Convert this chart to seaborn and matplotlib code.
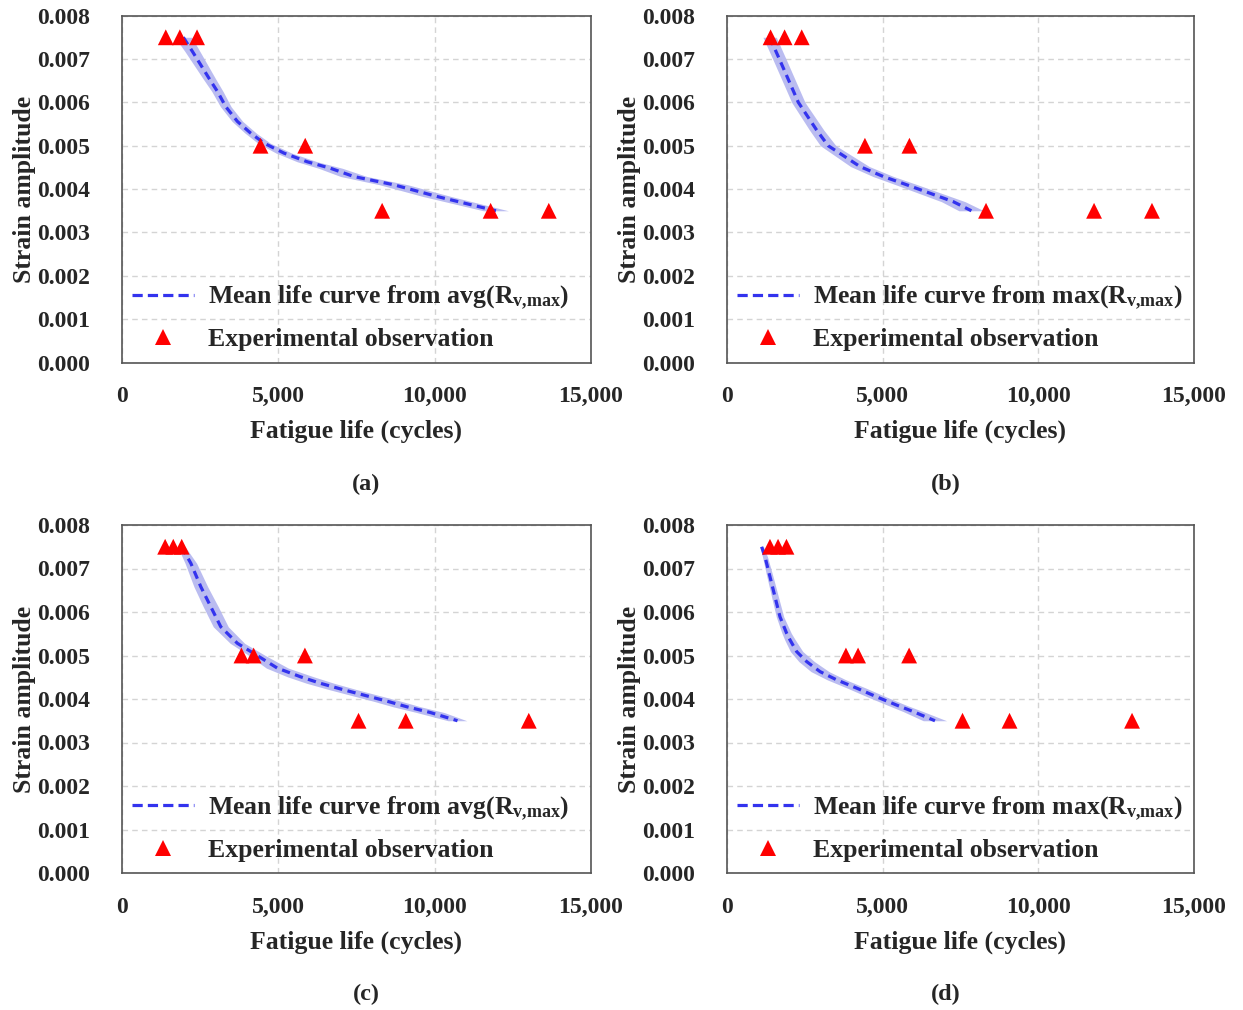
import numpy as np
import pandas as pd
import matplotlib
matplotlib.use("Agg")
import matplotlib.pyplot as plt
import seaborn as sns
from matplotlib.lines import Line2D

# ---------------- data ----------------
# mean life curves (strain amplitude, fatigue life)
a_strain = [0.0075, 0.00717, 0.00686, 0.00655, 0.00625, 0.0059, 0.00556, 0.00529,
            0.00506, 0.00483, 0.00463, 0.00448, 0.00429, 0.0041, 0.00383, 0.0035]
a_life = [1960, 2255, 2521, 2787, 3053, 3319, 3691, 4116,
          4541, 5179, 5924, 6669, 7414, 8690, 10074, 11960]
a_half = [270, 240, 220, 200, 180, 170, 170, 180,
          200, 250, 320, 380, 420, 450, 450, 400]

b_strain = [0.0075, 0.007, 0.00644, 0.006, 0.00536, 0.005, 0.00452, 0.00429,
            0.0041, 0.00371, 0.0035]
b_life = [1370, 1681, 2023, 2291, 2880, 3250, 4271, 5020, 5770, 7268, 7850]
b_half = [215, 214, 214, 214, 230, 250, 300, 330, 350, 380, 400]

c_strain = [0.0075, 0.00712, 0.00658, 0.00612, 0.00566, 0.00528, 0.00501, 0.00471,
            0.00451, 0.00436, 0.00421, 0.00409, 0.00395, 0.00382, 0.00369, 0.0035]
c_life = [1900, 2202, 2521, 2840, 3159, 3691, 4300, 4968,
          5712, 6350, 7095, 7733, 8477, 9115, 9860, 10730]
c_half = [120, 185, 220, 240, 240, 230, 260, 350,
          420, 440, 440, 440, 440, 440, 440, 300]

d_strain = [0.0075, 0.00727, 0.00681, 0.00635, 0.00589, 0.00551, 0.00536, 0.00509,
            0.00486, 0.00463, 0.00444, 0.00425, 0.00405, 0.00386, 0.00371, 0.0035]
d_life = [1113, 1220, 1381, 1541, 1702, 1916, 2023, 2237,
          2559, 2987, 3522, 4165, 4807, 5449, 5983, 6680]
d_half = [60, 80, 100, 110, 120, 150, 170, 200,
          250, 290, 300, 300, 300, 300, 320, 375]

obs_ab_life = [1400, 1850, 2400, 4430, 5860, 8320, 11790, 13650]
obs_ab_strain = [0.0075, 0.0075, 0.0075, 0.005, 0.005, 0.0035, 0.0035, 0.0035]
obs_cd_life = [1380, 1640, 1910, 3820, 4210, 5850, 7565, 9075, 13010]
obs_cd_strain = [0.0075, 0.0075, 0.0075, 0.005, 0.005, 0.005, 0.0035, 0.0035, 0.0035]

panel_tags = ["(a)", "(b)", "(c)", "(d)"]
legend_curve = [r"Mean life curve from avg(R$_{\rm v{,}max}$)",
                r"Mean life curve from max(R$_{\rm v{,}max}$)",
                r"Mean life curve from avg(R$_{\rm v{,}max}$)",
                r"Mean life curve from max(R$_{\rm v{,}max}$)"]
legend_obs = "Experimental observation"
x_ticks = [0, 5000, 10000, 15000]
x_tick_labels = ["0", "5,000", "10,000", "15,000"]
y_ticks = [0.000, 0.001, 0.002, 0.003, 0.004, 0.005, 0.006, 0.007, 0.008]
y_tick_labels = ["0.000", "0.001", "0.002", "0.003", "0.004", "0.005", "0.006", "0.007", "0.008"]

# ---------------- style ----------------
sns.set_theme(style="white")
plt.rcParams["font.family"] = ["Liberation Serif", "DejaVu Serif"]
plt.rcParams["font.weight"] = "bold"
plt.rcParams["mathtext.fontset"] = "custom"
plt.rcParams["mathtext.rm"] = "Liberation Serif:bold"
plt.rcParams["mathtext.it"] = "Liberation Serif:bold"
plt.rcParams["mathtext.bf"] = "Liberation Serif:bold"

LINE_C = "#3333ee"
BAND_C = "#b3b5ef"
RED = "#ff0000"
FS_TICK = 17
FS_LAB = 18.5
FS_LEG = 18.5
FS_TAG = 17.5

W, H = 1243, 1010
fig = plt.figure(figsize=(W / 100, H / 100), dpi=100)

boxes = [(122, 591, 15.6, 362.6), (727, 1194, 15.6, 362.6),
         (122, 591, 525, 873), (727, 1194, 525, 873)]
tag_pos = [(366, 484), (946, 484), (366, 994), (946, 994)]

curves = [(a_strain, a_life, a_half), (b_strain, b_life, b_half),
          (c_strain, c_life, c_half), (d_strain, d_life, d_half)]
obs = [(obs_ab_life, obs_ab_strain), (obs_ab_life, obs_ab_strain),
       (obs_cd_life, obs_cd_strain), (obs_cd_life, obs_cd_strain)]

for i in range(4):
    l, r, t, b = boxes[i]
    ax = fig.add_axes([l / W, 1 - b / H, (r - l) / W, (b - t) / H])
    s, life, half = curves[i]
    df = pd.DataFrame({"strain": s, "life": life, "half": half})
    ax.fill_betweenx(df["strain"], df["life"] - df["half"], df["life"] + df["half"],
                     color=BAND_C, alpha=0.9, linewidth=0, zorder=1)
    sns.lineplot(data=df, x="life", y="strain", sort=False, estimator=None,
                 color=LINE_C, linewidth=2.3, ax=ax, zorder=3)
    ax.lines[-1].set_dashes([2.6, 1.7])
    od = pd.DataFrame({"life": obs[i][0], "strain": obs[i][1]})
    sns.scatterplot(data=od, x="life", y="strain", marker="^", s=130, color=RED,
                    edgecolor="none", ax=ax, zorder=4)

    ax.set_xlim(0, 15000)
    ax.set_ylim(0, 0.008)
    ax.set_xticks(x_ticks)
    ax.set_xticklabels(x_tick_labels, fontsize=FS_TICK, fontweight="bold")
    ax.set_yticks(y_ticks)
    ax.set_yticklabels(y_tick_labels, fontsize=FS_TICK, fontweight="bold")
    ax.tick_params(axis="x", length=0, pad=17)
    ax.tick_params(axis="y", length=0, pad=23)
    ax.grid(True, color="#d4d4d4", linestyle=(0, (4, 3)), linewidth=1.0)
    ax.set_axisbelow(True)
    for sp in ax.spines.values():
        sp.set_color("#555555")
        sp.set_linewidth(1.2)
    ax.set_xlabel("Fatigue life (cycles)", fontsize=FS_LAB, fontweight="bold", labelpad=9)
    ax.set_ylabel("Strain amplitude", fontsize=FS_LAB, fontweight="bold", labelpad=1)

    h1 = Line2D([], [], color=LINE_C, linewidth=2.3, dashes=[3.2, 1.6])
    h2 = Line2D([], [], color=RED, marker="^", linestyle="none", markersize=11.5,
                markeredgewidth=0)
    ax.legend([h1, h2], [legend_curve[i], legend_obs], loc="lower left",
              bbox_to_anchor=(-0.011, -0.012), frameon=False,
              handlelength=2.4, handletextpad=0.55, labelspacing=0.62,
              borderaxespad=0.3, borderpad=0.3,
              prop={"weight": "bold", "size": FS_LEG})

    fig.text(tag_pos[i][0] / W, 1 - tag_pos[i][1] / H, panel_tags[i],
             ha="center", va="center", fontsize=FS_TAG, fontweight="bold")

fig.savefig("out.png", dpi=100)
